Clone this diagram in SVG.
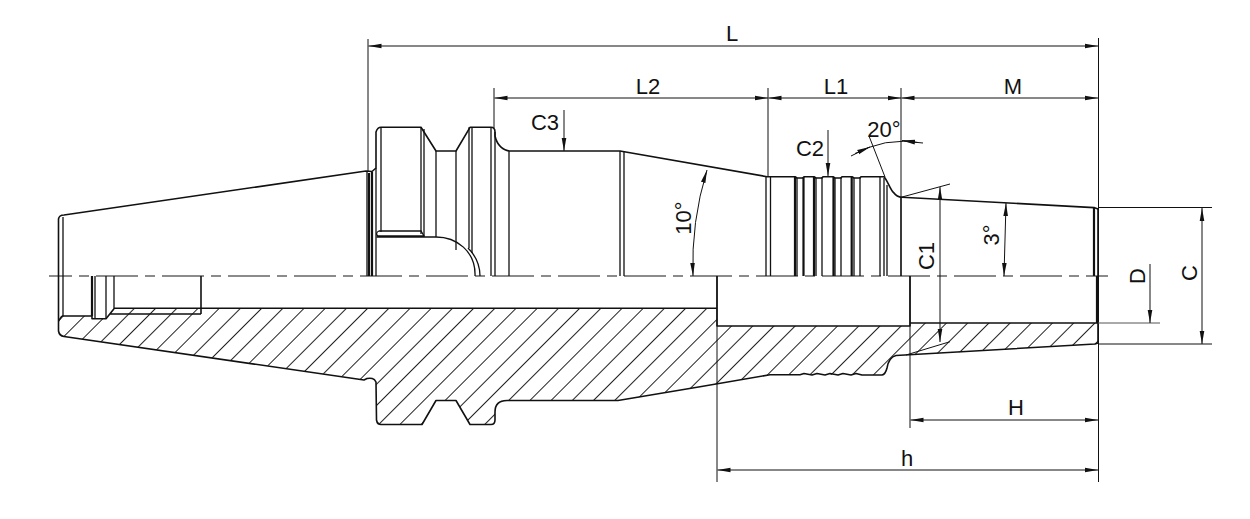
<svg xmlns="http://www.w3.org/2000/svg" width="1250" height="519" viewBox="0 0 1250 519">
<style>
.o{fill:none;stroke:#111;stroke-width:1.6;stroke-linejoin:round}
.v{fill:none;stroke:#111;stroke-width:1.3}
.b{fill:none;stroke:#111;stroke-width:2.2}
.d{fill:none;stroke:#111;stroke-width:1}
.g{fill:none;stroke:#555;stroke-width:1}
.a{fill:none;stroke:#111;stroke-width:1;marker-end:url(#ah);marker-start:url(#ah)}
.s{fill:none;stroke:#111;stroke-width:1;marker-end:url(#ah)}
.c{fill:none;stroke:#666;stroke-width:1.3;stroke-dasharray:42 7 10 7;stroke-dashoffset:19}
text{font-family:"Liberation Sans",Arial,sans-serif;font-size:22px;fill:#111;text-anchor:middle}
</style>
<defs>
<marker id="ah" markerUnits="userSpaceOnUse" markerWidth="14" markerHeight="8" refX="13" refY="4" orient="auto-start-reverse"><path d="M0 1.7L13 4L0 6.3Z" fill="#111"/></marker>
<pattern id="hatch" patternUnits="userSpaceOnUse" width="30" height="14.99" patternTransform="rotate(-45) translate(0 5.8)"><line x1="0" y1="7.495" x2="30" y2="7.495" stroke="#222" stroke-width="1"/></pattern>
</defs>
<path id="hatching" fill="url(#hatch)" d="M62 316L92 316L94 318.7L106 318.7L114 308.5L717 308L717 326L910 326L910 323L1098 323L1098 344L895 356L890 360L885 372L880 375L770 374.5L700 386.7L620 400.5L505 400.5C498 401 495 405 495 412L495 421L492 424.5L470 424.5L456 400.5L436 400.5L422 424.5L380 424.5L377 420L376 382L367 380L64 336.5L58.5 331L58.5 322Z"/>
<path id="centerline" class="c" d="M49 276H1108"/>
<g id="tool-body">
<path class="o" d="M58.5 321V219C59 216 61 215 64 215L366 171L372 171.5L376 168V132C377 129 378 127.3 381 127.3H421L436 151H456L470 127.3H491C494 127.3 495 129 495 132V136C497 145 503 151 511 151H620L767 176.7H795L797 178H803L804 176.7H814L816 178H822L823 176.7H833L835 178H841L842 176.7H852L854 178H860L861 176.7H884C888 181 890 190 894 193C896 196 898 197 902 197.3L1094 207.6L1098 209"/>
<path class="o" d="M58.5 321V331C59 334 61 336 64 336.5L364 380L367 378.5C371 378 374 378 376 382L376.5 420C377 423 378 424.5 381 424.5H422L436 400.5H456L470 424.5H491C494 424.5 495 423 495 420V412C495 405 499 400.5 507 400.5H618L700 386.7L770 374.7H800L804 373.5L812 375L817 373.5L825 375L830 373.5L838 375L843 373.5L851 375L856 373.5L862 375H882C885 374.5 886 372 887 368C888 362 890 357 896 355.5L1095 344L1098 343V209"/>
<path class="o" d="M62 316H92V318.7H106L114 308.7M110 314H201M114 308.3H717V326H910V323H1098M717 276V326M910 276V326M201 276V314M62 316L58.5 321"/>
<path class="v" d="M63 217V316M92 276V316M95 276V318M106 276V318M114 276V309"/>
<path class="b" d="M369 173V276M372 172V276M92 276V316"/>
<path class="v" d="M367 172V276M376 168V276"/>
<path class="v" d="M381 127.3V232M421 127.3V234M424 129V236M436 151V237M456 151V250M469 127.3V248M472 127.3V253M491 127.3V276M495 132V276M509 151V276M620 151V276M624 152V276"/>
<path class="v" d="M379 231H421L424 236H378C376 235 376 232 379 231ZM376.5 237H436C456 237 476 251 475 276M468 248C474 254 480 264 480 276"/>
<path class="v" d="M766 176.7V276M770.5 176.7V276M797 178V276M854 178V276M816 178V276M835 178V276M822 177V276M841 177V276M860 177V276M880 176.7V276M884 178V276M887 185V276M901 197V276"/>
<path class="b" d="M795 176.7V276M803.5 177V276M814 177V276M833.5 177V276M851.7 177V276"/>
<path class="b" d="M1094 208V276M1097 276V323"/>
</g>
<g id="connectors">
<path class="d" d="M368 39V171M1098.5 38V482M494 88V128M768 88V177M901 88V276M717 276V482M910 276V428"/>
<path class="a" d="M368.5 46H1098"/>
<path class="a" d="M494.5 98H768"/>
<path class="a" d="M768.5 98H901"/>
<path class="a" d="M901.5 98H1098"/>
<path class="a" d="M910.5 420H1098"/>
<path class="a" d="M717.5 470H1098"/>
<path class="s" d="M564 110V151"/>
<path class="s" d="M828 130V176"/>
<path class="d" d="M869 136L885 177M901 197.3L950 184M906 355L950 341.7M1098 207.5H1212M1098 344H1212M851 156Q884 136 923 143"/>
<path class="g" d="M1098 323H1160"/>
<path class="a" d="M940 187V342"/>
<path class="s" d="M1150 264V323"/>
<path class="a" d="M1202 208V344"/>
<path class="a" d="M1006 203L1004 276"/>
<path class="a" d="M707 170Q691 222 693 276"/>
<path class="s" d="M855 153.5L870 147"/>
<path class="s" d="M918 142.5L902 140.5"/>
</g>
<g id="labels">
<text x="732" y="41">L</text>
<text x="648" y="94">L2</text>
<text x="836" y="94">L1</text>
<text x="1013" y="94">M</text>
<text x="545" y="130">C3</text>
<text x="810" y="156">C2</text>
<text x="884" y="137">20°</text>
<text x="1016" y="415">H</text>
<text x="907" y="466">h</text>
<text transform="translate(691 218) rotate(-90)">10°</text>
<text transform="translate(934 256) rotate(-90)">C1</text>
<text transform="translate(999 235) rotate(-90)">3°</text>
<text transform="translate(1145 276) rotate(-90)">D</text>
<text transform="translate(1197 273) rotate(-90)">C</text>
</g>
</svg>
